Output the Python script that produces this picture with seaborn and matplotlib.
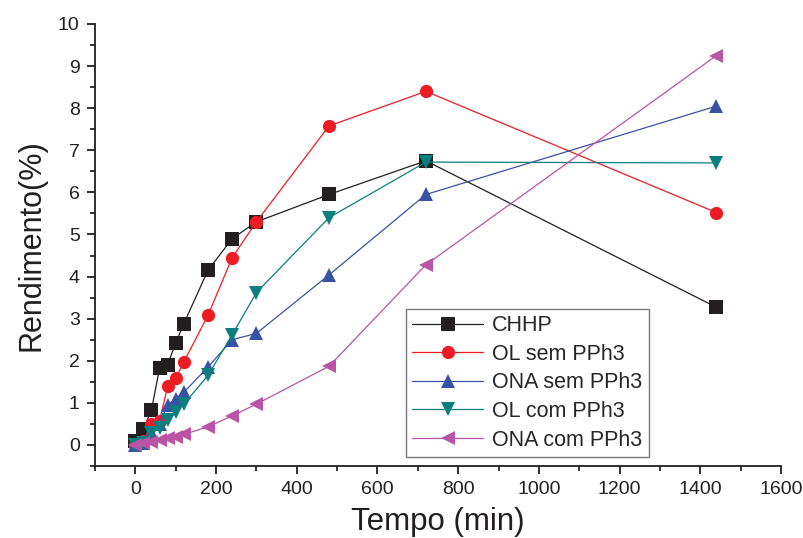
import matplotlib
matplotlib.use("Agg")
import matplotlib.pyplot as plt
import seaborn as sns
import pandas as pd
from matplotlib.ticker import MultipleLocator

tempo = [0, 20, 40, 60, 80, 100, 120, 180, 240, 300, 480, 720, 1440]
chhp = [0.1, 0.38, 0.83, 1.83, 1.91, 2.42, 2.88, 4.15, 4.9, 5.3, 5.95, 6.75, 3.27]
ol_sem = [0.0, 0.1, 0.5, 0.58, 1.39, 1.58, 1.97, 3.08, 4.45, 5.3, 7.58, 8.4, 5.52]
ona_sem = [0.0, 0.05, 0.3, 0.5, 0.95, 1.1, 1.25, 1.85, 2.5, 2.65, 4.04, 5.95, 8.05]
ol_com = [0.0, 0.05, 0.28, 0.4, 0.59, 0.78, 0.97, 1.65, 2.62, 3.62, 5.4, 6.72, 6.7]
ona_com = [0.0, 0.04, 0.07, 0.12, 0.16, 0.2, 0.25, 0.43, 0.69, 0.97, 1.87, 4.28, 9.25]

series_names = ["CHHP", "OL sem PPh3", "ONA sem PPh3", "OL com PPh3", "ONA com PPh3"]
series_vals = [chhp, ol_sem, ona_sem, ol_com, ona_com]
colors = ["#231f20", "#ed1c24", "#3953a4", "#0b7f7f", "#b954a6"]
markers = ["s", "o", "^", "v", "<"]

sns.set_style("ticks")
plt.rcParams["font.family"] = ["Liberation Sans", "DejaVu Sans"]

fig = plt.figure(figsize=(8.04, 5.38), dpi=100)
ax = fig.add_axes([95/804, 1 - 466/538, (781 - 95)/804, (466 - 24)/538])

for name, vals, c, m in zip(series_names, series_vals, colors, markers):
    df = pd.DataFrame({"Tempo": tempo, "Rend": vals})
    sns.lineplot(data=df, x="Tempo", y="Rend", ax=ax, color=c, marker=m,
                 markersize=9.5, markeredgewidth=0, linewidth=0.9, label=name)

ax.set_xlim(-100, 1600)
ax.set_ylim(-0.5, 10)
ax.xaxis.set_major_locator(MultipleLocator(200))
ax.xaxis.set_minor_locator(MultipleLocator(100))
ax.yaxis.set_major_locator(MultipleLocator(1))
ax.yaxis.set_minor_locator(MultipleLocator(0.5))
ax.tick_params(which="major", length=6, width=1.3, labelsize=14, colors="#231f20", pad=5)
ax.tick_params(which="minor", length=3.5, width=1.3)
for s in ["left", "bottom"]:
    ax.spines[s].set_linewidth(1.3)
    ax.spines[s].set_color("#231f20")
sns.despine(ax=ax)

ax.set_xlabel("Tempo (min)", fontsize=22.5, color="#231f20", labelpad=6)
ax.set_ylabel("Rendimento(%)", fontsize=22, color="#231f20", labelpad=8)

leg = ax.legend(loc="lower left", bbox_to_anchor=((406 - 95)/686, (466 - 457)/442),
                fontsize=15.5, frameon=True, fancybox=False, borderpad=0.3,
                handlelength=3.3, handletextpad=0.4, labelspacing=0.35,
                borderaxespad=0)
leg.get_frame().set_edgecolor("#555555")
leg.get_frame().set_linewidth(1.0)

fig.savefig("out.png", dpi=100)
